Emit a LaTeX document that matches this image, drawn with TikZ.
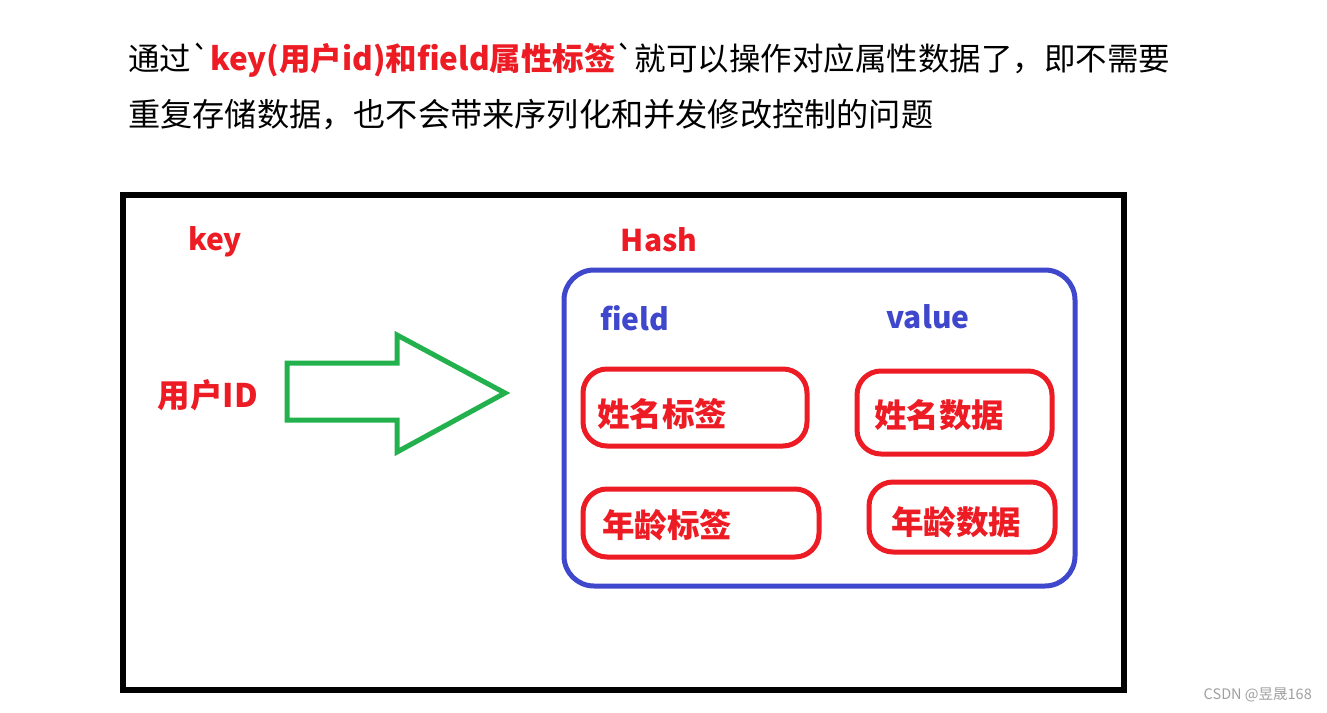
\documentclass[tikz,border=0pt]{standalone}
\usepackage{fontspec}
\setmainfont{Noto Sans CJK SC}
\newfontfamily\cjk{Noto Sans CJK SC}
\definecolor{pred}{HTML}{ED1C24}
\definecolor{pblue}{HTML}{3F48CC}
\definecolor{pgreen}{HTML}{22B14C}
\definecolor{wm}{HTML}{A0A0A0}
\tikzset{
  lbl/.style={inner sep=0pt, font=\cjk\bfseries\fontsize{30}{36}\selectfont},
  redlbl/.style={lbl, text=pred},
  cjklbl/.style={redlbl, font=\cjk\bfseries\fontsize{32.5}{38}\selectfont},
  bluelbl/.style={lbl, text=pblue},
  cell/.style={draw=pred, line width=5pt, rounded corners=24pt},
}
\begin{document}
\begin{tikzpicture}[x=1pt,y=-1pt]
\useasboundingbox[fill=white] (0,0) rectangle (1327,712);
% title
\node[anchor=west, inner sep=0pt, font=\cjk\fontsize{31.5}{36}\selectfont] (t1) at (128,60)
  {通过`{\bfseries\color{pred}key(用户id)和field属性标签}`就可以操作对应属性数据了，即不需要};
\node[anchor=west, inner sep=0pt, font=\cjk\fontsize{32.2}{36}\selectfont] (t2) at (128,115)
  {重复存储数据，也不会带来序列化和并发修改控制的问题};
% outer box
\draw[line width=6pt] (123,195) rectangle (1124,690);
\node[redlbl] (key) at (215,242) {key};
\node[redlbl] (hash) at (659,240) {Hash};
\node[cjklbl] (uid) at (208,395) {用户ID};
% green arrow
\draw[pgreen, line width=5pt, line join=miter]
  (287,363) -- (397,363) -- (397,335) -- (505,393) -- (397,452) -- (397,420) -- (287,420) -- cycle;
% hash box
\draw[pblue, line width=5pt, rounded corners=30pt] (564,270) rectangle (1075,586);
\node[bluelbl] (field) at (635,318) {field};
\node[bluelbl] (value) at (928,317) {value};
% cells
\draw[cell] (583,369) rectangle (807,446);
\draw[cell] (857,371) rectangle (1052,454);
\draw[cell] (583,489) rectangle (819,557);
\draw[cell] (869,482) rectangle (1055,552);
\node[cjklbl] (c1) at (662,414) {姓名标签};
\node[cjklbl] (c2) at (939,415) {姓名数据};
\node[cjklbl] (c3) at (667,525) {年龄标签};
\node[cjklbl] (c4) at (956,522) {年龄数据};
% watermark
\node[anchor=east, inner sep=0pt, text=wm, font=\cjk\fontsize{14.5}{16}\selectfont] (wmk) at (1312,695) {CSDN @昱晟168};
\end{tikzpicture}
\end{document}
